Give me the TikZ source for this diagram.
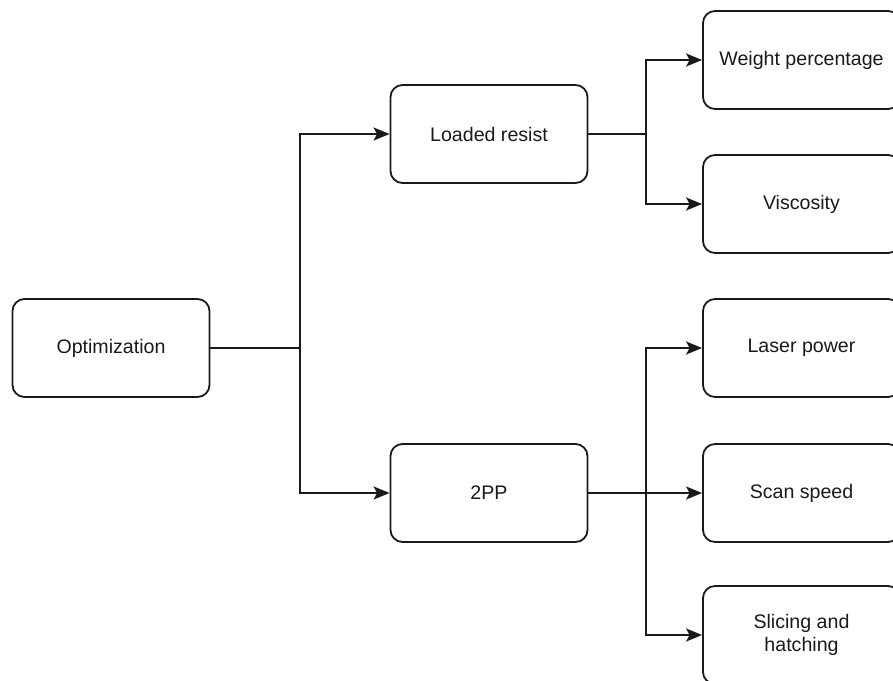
\documentclass[tikz,border=0pt]{standalone}
\usepackage{fontspec}
\setmainfont{Liberation Sans}
\usetikzlibrary{arrows.meta}
\definecolor{ink}{HTML}{1A1A1A}
\begin{document}
\begin{tikzpicture}[x=1pt,y=-1pt,
  box/.style={draw=ink, line width=1.8pt, rounded corners=12pt, fill=white,
    minimum width=197pt, minimum height=98pt, inner sep=0pt,
    text=ink, font=\fontsize{19.6}{23.5}\selectfont, align=center},
  link/.style={draw=ink, line width=1.8pt},
  arr/.style={link, -{Stealth[length=16pt,width=13pt,inset=3.5pt]}}]
\useasboundingbox (0,0) rectangle (893,680);
\clip (0,0) rectangle (893,680);

% root and second level
\node[box] (opt) at (111,348) {Optimization};
\node[box] (lr)  at (489,134) {Loaded resist};
\node[box] (tpp) at (489,493) {2PP};

% leaves
\node[box] (wp) at (801.5,60)  {Weight percentage};
\node[box] (vi) at (801.5,204) {Viscosity};
\node[box] (lp) at (801.5,348) {Laser power};
\node[box] (ss) at (801.5,493) {Scan speed};
\node[box] (sh) at (801.5,635) {Slicing and\\hatching};

% branch points
\coordinate (j1) at (300,348);
\coordinate (j2) at (646,134);
\coordinate (j3) at (646,493);

% connectors
\draw[link] (opt.east) -- (j1);
\draw[arr] (j1) |- (lr.west);
\draw[arr] (j1) |- (tpp.west);

\draw[link] (lr.east) -- (j2);
\draw[arr] (j2) |- (wp.west);
\draw[arr] (j2) |- (vi.west);

\draw[arr] (tpp.east) -- (ss.west);
\draw[arr] (j3) |- (lp.west);
\draw[arr] (j3) |- (sh.west);
\end{tikzpicture}
\end{document}
